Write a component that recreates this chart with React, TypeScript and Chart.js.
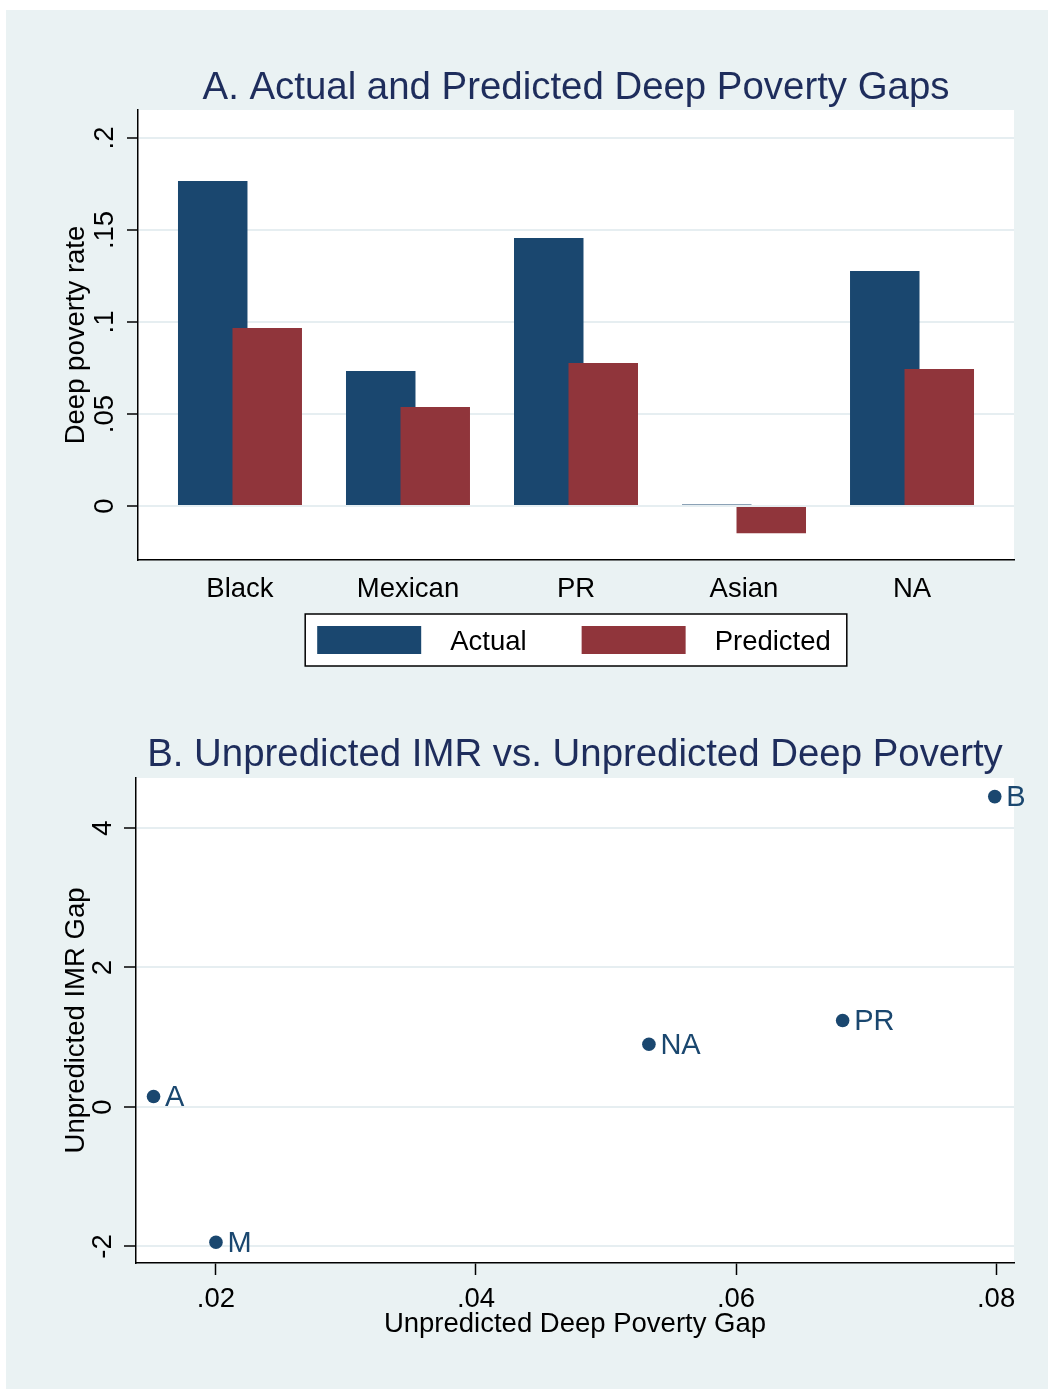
import React, { useEffect, useRef } from 'react';
import { Chart, registerables } from 'chart.js';

Chart.register(...registerables);

// ---------- Panel A data ----------
const categories = ['Black', 'Mexican', 'PR', 'Asian', 'NA'];
const seriesNames = ['Actual', 'Predicted'];
const actualRate = [0.1766, 0.0734, 0.1457, 0.0008, 0.1277];
const predictedRate = [0.0967, 0.0538, 0.0777, -0.0147, 0.0745];
const rateTicks = [0, 0.05, 0.1, 0.15, 0.2];

// ---------- Panel B data ----------
const pointLabels = ['B', 'M', 'PR', 'A', 'NA'];
const povertyGap = [0.0799, 0.02, 0.0682, 0.0152, 0.0533];
const imrGap = [4.45, -1.94, 1.24, 0.15, 0.9];
const gapTicks = [0.02, 0.04, 0.06, 0.08];
const imrTicks = [-2, 0, 2, 4];

const FONT = "'Liberation Sans', Arial, Helvetica, sans-serif";
const NAVY = '#1a476f';
const MAROON = '#90353b';
const TITLE_COLOR = '#1e2d5c';
const BG = '#eaf2f3';
const GRID = '#e6eef1';

const fmt = (v: number) => {
  const s = String(Math.round(v * 10000) / 10000);
  return s.replace(/^0\./, '.').replace(/^-0\./, '-.');
};

const plotBackground = {
  id: 'plotBackground',
  beforeDraw(chart: any) {
    const { ctx, chartArea: a } = chart;
    ctx.save();
    ctx.fillStyle = '#ffffff';
    ctx.fillRect(a.left, a.top, a.right - a.left, a.bottom - a.top);
    ctx.restore();
  },
};

// draw the second series (Predicted) over the first one
const predictedOnTop = {
  id: 'predictedOnTop',
  beforeDatasetDraw(_chart: any, args: any) {
    if (args.index === 1) return false;
  },
  afterDatasetsDraw(chart: any) {
    const meta = chart.getDatasetMeta(1);
    if (meta && meta.controller) meta.controller.draw();
  },
};

const boxedLegend = {
  id: 'boxedLegend',
  afterDraw(chart: any) {
    const { ctx, chartArea: a } = chart;
    ctx.save();
    ctx.font = `27.5px ${FONT}`;
    const items = chart.data.datasets.map((ds: any) => ({
      label: ds.label,
      color: ds.backgroundColor,
      w: ctx.measureText(ds.label).width,
    }));
    const padL = 12, padR = 16, sw = 104, sh = 28, gapT = 29, gapI = 55, h = 52;
    let total = padL + padR;
    items.forEach((it: any, i: number) => {
      total += sw + gapT + it.w + (i > 0 ? gapI : 0);
    });
    const left = (a.left + a.right) / 2 - total / 2;
    const top = a.bottom + 54;
    ctx.fillStyle = '#ffffff';
    ctx.fillRect(left, top, total, h);
    ctx.strokeStyle = '#000';
    ctx.lineWidth = 1.5;
    ctx.strokeRect(left, top, total, h);
    let x = left + padL;
    const cy = top + h / 2;
    items.forEach((it: any, i: number) => {
      if (i > 0) x += gapI;
      ctx.fillStyle = it.color;
      ctx.fillRect(x, cy - sh / 2, sw, sh);
      x += sw + gapT;
      ctx.fillStyle = '#000';
      ctx.textBaseline = 'middle';
      ctx.textAlign = 'left';
      ctx.fillText(it.label, x, cy + 2);
      x += it.w;
    });
    ctx.restore();
  },
};

const pointLabelPlugin = {
  id: 'pointLabelPlugin',
  afterDatasetsDraw(chart: any) {
    const { ctx } = chart;
    const meta = chart.getDatasetMeta(0);
    ctx.save();
    ctx.font = `29px ${FONT}`;
    ctx.fillStyle = NAVY;
    ctx.textBaseline = 'middle';
    ctx.textAlign = 'left';
    meta.data.forEach((el: any, i: number) => {
      ctx.fillText(pointLabels[i], el.x + 11.5, el.y + 1.5);
    });
    ctx.restore();
  },
};

const tickFont = { size: 27.5, family: FONT };
const titleFont = { size: 38.4, family: FONT, weight: 'normal', lineHeight: 1 };

function PanelA() {
  const ref = useRef<HTMLCanvasElement>(null);
  useEffect(() => {
    if (!ref.current) return;
    const chart = new Chart(ref.current, {
      type: 'bar',
      data: {
        datasets: [
          {
            label: seriesNames[0],
            data: actualRate.map((v, i) => ({ x: i, y: v })),
            backgroundColor: NAVY,
            borderWidth: 0,
            categoryPercentage: 0.6488,
            barPercentage: 1.275,
          },
          {
            label: seriesNames[1],
            data: predictedRate.map((v, i) => ({ x: i, y: v })),
            backgroundColor: MAROON,
            borderWidth: 0,
            categoryPercentage: 0.6488,
            barPercentage: 1.275,
          },
        ],
      } as any,
      options: {
        responsive: false,
        animation: false,
        devicePixelRatio: 1,
        events: [],
        layout: { padding: { left: 0, right: 34, top: 0, bottom: 90 } },
        plugins: {
          legend: { display: false },
          tooltip: { enabled: false },
          title: {
            display: true,
            text: 'A. Actual and Predicted Deep Poverty Gaps',
            color: TITLE_COLOR,
            font: titleFont,
            padding: { top: 58.8, bottom: 2.8 },
            fullSize: false,
          },
        },
        scales: {
          x: {
            type: 'linear',
            min: -0.607,
            max: 4.607,
            offset: false,
            afterBuildTicks: (s: any) => {
              s.ticks = categories.map((_, i) => ({ value: i }));
            },
            afterFit: (s: any) => {
              s.height = 50;
            },
            grid: { display: false, drawTicks: false, offset: false },
            border: { display: true, color: '#000', width: 1.5 },
            ticks: {
              padding: 13,
              autoSkip: false,
              maxRotation: 0,
              font: tickFont,
              color: '#000',
              callback: (v: any) => categories[v] ?? '',
            },
          },
          y: {
            min: -0.0293,
            max: 0.2152,
            afterBuildTicks: (s: any) => {
              s.ticks = rateTicks.map((v) => ({ value: v }));
            },
            afterFit: (s: any) => {
              s.width = 132;
            },
            grid: {
              color: GRID,
              lineWidth: 2,
              tickColor: '#000',
              tickWidth: 1.5,
              tickLength: 11,
              drawTicks: true,
            },
            border: { display: true, color: '#000', width: 1.5 },
            ticks: {
              minRotation: 90,
              maxRotation: 90,
              crossAlign: 'center',
              padding: 2,
              autoSkip: false,
              font: tickFont,
              color: '#000',
              callback: (v: any) => fmt(v),
            },
            title: {
              display: true,
              text: 'Deep poverty rate',
              color: '#000',
              font: tickFont,
              padding: { top: 53.5, bottom: 0 },
            },
          },
        },
      } as any,
      plugins: [plotBackground, predictedOnTop, boxedLegend],
    });
    return () => chart.destroy();
  }, []);
  return (
    <canvas
      ref={ref}
      width={1042}
      height={690}
      style={{ position: 'absolute', left: 0, top: 0, width: 1042, height: 690, display: 'block' }}
    />
  );
}

function PanelB() {
  const ref = useRef<HTMLCanvasElement>(null);
  useEffect(() => {
    if (!ref.current) return;
    const chart = new Chart(ref.current, {
      type: 'scatter',
      data: {
        datasets: [
          {
            label: 'IMR',
            data: povertyGap.map((x, i) => ({ x, y: imrGap[i] })),
            pointRadius: 6.8,
            pointBackgroundColor: NAVY,
            pointBorderWidth: 0,
            backgroundColor: NAVY,
          },
        ],
      } as any,
      options: {
        responsive: false,
        animation: false,
        devicePixelRatio: 1,
        events: [],
        layout: { padding: { left: 0, right: 34, top: 0, bottom: 0 } },
        plugins: {
          legend: { display: false },
          tooltip: { enabled: false },
          title: {
            display: true,
            text: 'B. Unpredicted IMR vs. Unpredicted Deep Poverty',
            color: TITLE_COLOR,
            font: titleFont,
            padding: { top: 36.3, bottom: 3.3 },
            fullSize: false,
          },
        },
        scales: {
          x: {
            type: 'linear',
            min: 0.01385,
            max: 0.08138,
            afterBuildTicks: (s: any) => {
              s.ticks = gapTicks.map((v) => ({ value: v }));
            },
            afterFit: (s: any) => {
              s.height = 126;
            },
            grid: {
              drawOnChartArea: false,
              tickColor: '#000',
              tickWidth: 1.5,
              tickLength: 12,
            },
            border: { display: true, color: '#000', width: 1.5 },
            ticks: {
              padding: 8,
              autoSkip: false,
              maxRotation: 0,
              font: tickFont,
              color: '#000',
              callback: (v: any) => fmt(v),
            },
            title: {
              display: true,
              text: 'Unpredicted Deep Poverty Gap',
              color: '#000',
              font: tickFont,
              padding: { top: 0, bottom: 48.2 },
            },
          },
          y: {
            type: 'linear',
            min: -2.237,
            max: 4.717,
            afterBuildTicks: (s: any) => {
              s.ticks = imrTicks.map((v) => ({ value: v }));
            },
            afterFit: (s: any) => {
              s.width = 130;
            },
            grid: {
              color: GRID,
              lineWidth: 2,
              tickColor: '#000',
              tickWidth: 1.5,
              tickLength: 12,
            },
            border: { display: true, color: '#000', width: 1.5 },
            ticks: {
              minRotation: 90,
              maxRotation: 90,
              crossAlign: 'center',
              padding: 8.7,
              autoSkip: false,
              font: tickFont,
              color: '#000',
              callback: (v: any) => String(v),
            },
            title: {
              display: true,
              text: 'Unpredicted IMR Gap',
              color: '#000',
              font: tickFont,
              padding: { top: 53.5, bottom: 0 },
            },
          },
        },
      } as any,
      plugins: [plotBackground, pointLabelPlugin],
    });
    return () => chart.destroy();
  }, []);
  return (
    <canvas
      ref={ref}
      width={1042}
      height={689}
      style={{ position: 'absolute', left: 0, top: 690, width: 1042, height: 689, display: 'block' }}
    />
  );
}

export default function App() {
  return (
    <div style={{ position: 'absolute', left: 0, top: 0, width: 1048, height: 1389, background: '#ffffff', overflow: 'hidden' }}>
      <div style={{ position: 'absolute', left: 6, top: 10, width: 1042, height: 1379, background: BG }}>
        <PanelA />
        <PanelB />
      </div>
    </div>
  );
}
